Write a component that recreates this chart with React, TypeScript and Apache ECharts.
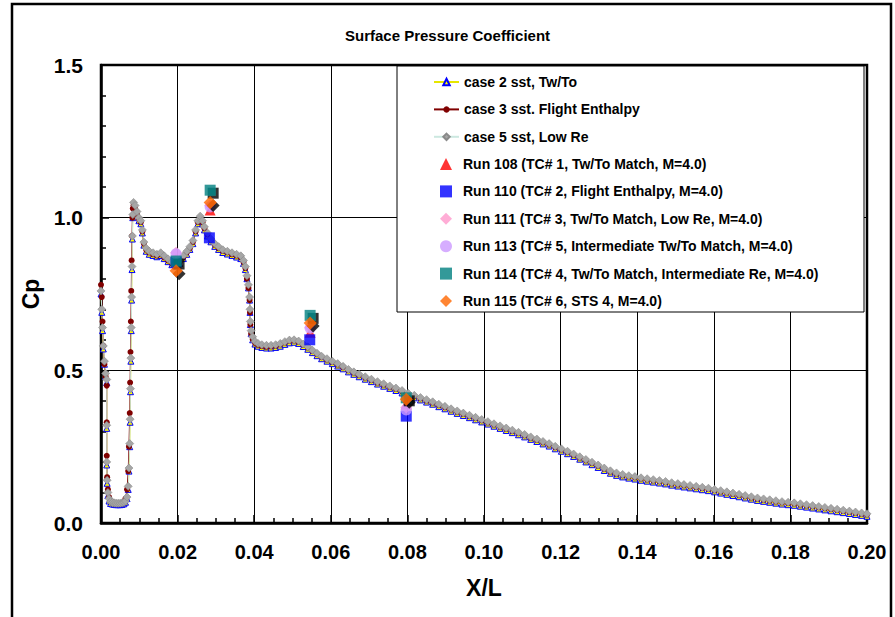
import React, { useEffect, useRef } from "react";
import * as echarts from "echarts";

const FONT = '"Liberation Sans", Arial, Helvetica, sans-serif';

// ---- CFD curves: shared X/L stations, split in three regions ----
const noseX = [0.0, 0.0002, 0.0004, 0.0006, 0.0009, 0.0012, 0.0015, 0.0015, 0.0015, 0.0016, 0.0018, 0.0021, 0.0025, 0.003, 0.0035, 0.004, 0.0045, 0.005, 0.0055, 0.006, 0.0064, 0.0068, 0.0071, 0.0073, 0.0075, 0.0076, 0.0077, 0.0078, 0.0079, 0.008, 0.0081, 0.0082, 0.0083, 0.0085];
const noseCase2 = [0.75, 0.69, 0.63, 0.57, 0.52, 0.48, 0.46, 0.31, 0.19, 0.13, 0.09, 0.072, 0.064, 0.062, 0.061, 0.06, 0.06, 0.06, 0.061, 0.063, 0.068, 0.08, 0.11, 0.17, 0.25, 0.33, 0.43, 0.53, 0.63, 0.73, 0.83, 0.93, 1.0, 1.04];
const noseCase3 = [0.78, 0.74, 0.66, 0.58, 0.52, 0.48, 0.45, 0.33, 0.22, 0.15, 0.11, 0.085, 0.072, 0.068, 0.066, 0.065, 0.064, 0.064, 0.065, 0.07, 0.08, 0.11, 0.17, 0.25, 0.36, 0.46, 0.56, 0.66, 0.76, 0.86, 0.94, 1.0, 1.03, 1.04];
const noseCase5 = [0.76, 0.7, 0.64, 0.58, 0.53, 0.49, 0.47, 0.32, 0.2, 0.14, 0.1, 0.08, 0.07, 0.067, 0.066, 0.065, 0.065, 0.065, 0.066, 0.068, 0.072, 0.085, 0.12, 0.18, 0.26, 0.34, 0.44, 0.54, 0.64, 0.74, 0.84, 0.94, 1.01, 1.05];

const midX = [0.0089, 0.0094, 0.0099, 0.0104, 0.0108, 0.0112, 0.0118, 0.0126, 0.0136, 0.0146, 0.0156, 0.0165, 0.0175, 0.0185, 0.0195, 0.0205, 0.0215, 0.0224, 0.0232, 0.024, 0.0247, 0.0253, 0.0259, 0.0265, 0.027, 0.0278, 0.0287, 0.0297, 0.0307, 0.0318, 0.033, 0.0342, 0.0354, 0.0365, 0.0372, 0.0377, 0.0381, 0.0385, 0.0388, 0.0389, 0.039, 0.0392, 0.0396, 0.0402, 0.041, 0.042, 0.0432, 0.0444, 0.0456, 0.0468, 0.048, 0.0492, 0.0504, 0.0516, 0.0528, 0.054, 0.0552, 0.0564, 0.0576, 0.059, 0.0604, 0.0618, 0.0632, 0.0646, 0.066, 0.0674];
const midCase2 = [1.03, 1.01, 0.99, 0.98, 0.95, 0.91, 0.89, 0.88, 0.876, 0.872, 0.876, 0.866, 0.856, 0.846, 0.842, 0.85, 0.866, 0.88, 0.896, 0.915, 0.95, 0.98, 0.995, 0.98, 0.96, 0.94, 0.921, 0.906, 0.896, 0.886, 0.881, 0.876, 0.871, 0.866, 0.85, 0.83, 0.8, 0.77, 0.73, 0.69, 0.65, 0.62, 0.6, 0.586, 0.579, 0.575, 0.573, 0.573, 0.575, 0.579, 0.585, 0.59, 0.592, 0.588, 0.578, 0.569, 0.558, 0.548, 0.538, 0.53, 0.522, 0.514, 0.505, 0.495, 0.487, 0.479];
const midCase3 = [1.03, 1.01, 0.995, 0.985, 0.955, 0.915, 0.895, 0.886, 0.88, 0.876, 0.88, 0.87, 0.86, 0.85, 0.846, 0.855, 0.87, 0.886, 0.9, 0.92, 0.955, 0.985, 1.0, 0.985, 0.965, 0.945, 0.926, 0.911, 0.9, 0.891, 0.886, 0.88, 0.876, 0.87, 0.855, 0.835, 0.8, 0.77, 0.73, 0.69, 0.65, 0.62, 0.602, 0.59, 0.583, 0.579, 0.577, 0.578, 0.58, 0.585, 0.591, 0.596, 0.597, 0.593, 0.583, 0.574, 0.563, 0.553, 0.543, 0.535, 0.527, 0.519, 0.51, 0.5, 0.492, 0.484];
const midCase5 = [1.04, 1.02, 1.0, 0.99, 0.96, 0.92, 0.9, 0.89, 0.885, 0.88, 0.885, 0.875, 0.865, 0.855, 0.85, 0.86, 0.875, 0.89, 0.905, 0.925, 0.96, 0.99, 1.005, 0.99, 0.97, 0.95, 0.93, 0.915, 0.905, 0.895, 0.89, 0.885, 0.88, 0.875, 0.86, 0.84, 0.81, 0.78, 0.74, 0.7, 0.66, 0.63, 0.61, 0.595, 0.588, 0.584, 0.582, 0.582, 0.584, 0.588, 0.594, 0.599, 0.6, 0.596, 0.586, 0.577, 0.566, 0.556, 0.546, 0.538, 0.53, 0.522, 0.513, 0.503, 0.495, 0.487];

const tailX = [0.069, 0.0706, 0.0722, 0.0738, 0.0754, 0.077, 0.0786, 0.0802, 0.0818, 0.0834, 0.085, 0.0866, 0.0882, 0.0898, 0.0914, 0.093, 0.0946, 0.0962, 0.0978, 0.0994, 0.101, 0.1026, 0.1042, 0.1058, 0.1074, 0.109, 0.1106, 0.1122, 0.1138, 0.1154, 0.117, 0.1186, 0.1202, 0.1218, 0.1234, 0.125, 0.1266, 0.1282, 0.1298, 0.1314, 0.133, 0.1346, 0.1362, 0.1378, 0.1394, 0.141, 0.1426, 0.1442, 0.1458, 0.1474, 0.149, 0.1506, 0.1522, 0.1538, 0.1554, 0.157, 0.1586, 0.1602, 0.1618, 0.1634, 0.165, 0.1666, 0.1682, 0.1698, 0.1714, 0.173, 0.1746, 0.1762, 0.1778, 0.1794, 0.181, 0.1826, 0.1842, 0.1858, 0.1874, 0.189, 0.1906, 0.1922, 0.1938, 0.1954, 0.197, 0.1986, 0.2];
const tailCase2 = [0.471, 0.463, 0.455, 0.448, 0.441, 0.434, 0.426, 0.417, 0.41, 0.403, 0.396, 0.389, 0.381, 0.374, 0.366, 0.359, 0.352, 0.345, 0.338, 0.331, 0.324, 0.317, 0.31, 0.303, 0.296, 0.289, 0.282, 0.274, 0.267, 0.259, 0.252, 0.243, 0.235, 0.227, 0.218, 0.209, 0.2, 0.191, 0.182, 0.172, 0.163, 0.156, 0.151, 0.147, 0.144, 0.14, 0.137, 0.134, 0.131, 0.128, 0.124, 0.121, 0.118, 0.115, 0.112, 0.109, 0.106, 0.102, 0.098, 0.094, 0.09, 0.086, 0.082, 0.078, 0.074, 0.071, 0.068, 0.065, 0.062, 0.06, 0.058, 0.055, 0.052, 0.049, 0.046, 0.043, 0.04, 0.037, 0.034, 0.031, 0.028, 0.025, 0.022];
const tailCase3 = [0.476, 0.468, 0.46, 0.453, 0.446, 0.439, 0.431, 0.422, 0.415, 0.408, 0.401, 0.394, 0.386, 0.379, 0.371, 0.364, 0.357, 0.35, 0.343, 0.336, 0.329, 0.322, 0.315, 0.308, 0.301, 0.294, 0.287, 0.279, 0.272, 0.264, 0.257, 0.248, 0.24, 0.232, 0.223, 0.214, 0.205, 0.196, 0.187, 0.177, 0.168, 0.161, 0.156, 0.152, 0.149, 0.145, 0.142, 0.139, 0.136, 0.133, 0.129, 0.126, 0.123, 0.12, 0.117, 0.114, 0.111, 0.107, 0.103, 0.099, 0.095, 0.091, 0.087, 0.083, 0.079, 0.076, 0.073, 0.07, 0.067, 0.065, 0.063, 0.06, 0.057, 0.054, 0.051, 0.048, 0.045, 0.042, 0.039, 0.036, 0.033, 0.03, 0.027];
const tailCase5 = [0.479, 0.471, 0.463, 0.456, 0.449, 0.442, 0.434, 0.425, 0.418, 0.411, 0.404, 0.397, 0.389, 0.382, 0.374, 0.367, 0.36, 0.353, 0.346, 0.339, 0.332, 0.325, 0.318, 0.311, 0.304, 0.297, 0.29, 0.282, 0.275, 0.267, 0.26, 0.251, 0.243, 0.235, 0.226, 0.217, 0.208, 0.199, 0.19, 0.18, 0.171, 0.164, 0.159, 0.155, 0.152, 0.148, 0.145, 0.142, 0.139, 0.136, 0.132, 0.129, 0.126, 0.123, 0.12, 0.117, 0.114, 0.11, 0.106, 0.102, 0.098, 0.094, 0.09, 0.086, 0.082, 0.079, 0.076, 0.073, 0.07, 0.068, 0.066, 0.063, 0.06, 0.057, 0.054, 0.051, 0.048, 0.045, 0.042, 0.039, 0.036, 0.033, 0.03];

// ---- Wind tunnel runs ----
const run108X = [0.0196, 0.0285, 0.0546, 0.0797];
const run108Y = [0.865, 1.025, 0.625, 0.39];
const run110X = [0.0196, 0.0283, 0.0545, 0.0797];
const run110Y = [0.855, 0.934, 0.6, 0.35];
const run111X = [0.0196, 0.0285, 0.0546, 0.0797];
const run111Y = [0.885, 1.04, 0.64, 0.378];
const run113X = [0.0196, 0.0285, 0.0546, 0.0797];
const run113Y = [0.882, 1.035, 0.638, 0.37];
const run114X = [0.0196, 0.0285, 0.0546, 0.0797];
const run114Y = [0.858, 1.09, 0.68, 0.41];
const run115X = [0.0196, 0.0285, 0.0546, 0.0797];
const run115Y = [0.826, 1.05, 0.655, 0.405];

const cfdNames = ["case 2 sst, Tw/To", "case 3 sst. Flight Enthalpy", "case 5 sst, Low Re"];
const runNames = [
  "Run 108 (TC# 1, Tw/To Match, M=4.0)",
  "Run 110 (TC# 2, Flight Enthalpy, M=4.0)",
  "Run 111 (TC# 3, Tw/To Match, Low Re, M=4.0)",
  "Run 113 (TC# 5, Intermediate Tw/To Match, M=4.0)",
  "Run 114 (TC# 4, Tw/To Match, Intermediate Re, M=4.0)",
  "Run 115 (TC# 6, STS 4, M=4.0)",
];

function pairs(xs: number[], ys: number[]) {
  const n = Math.min(xs.length, ys.length);
  const out: number[][] = [];
  for (let i = 0; i < n; i++) out.push([xs[i], ys[i]]);
  return out;
}

export default function App() {
  const ref = useRef<HTMLDivElement>(null);

  useEffect(() => {
    if (!ref.current) return;
    const chart = echarts.init(ref.current, undefined, { renderer: "svg" });

    const cfdX = [...noseX, ...midX, ...tailX];
    const c2 = pairs(cfdX, [...noseCase2, ...midCase2, ...tailCase2]);
    const c3 = pairs(cfdX, [...noseCase3, ...midCase3, ...tailCase3]);
    const c5 = pairs(cfdX, [...noseCase5, ...midCase5, ...tailCase5]);

    const shadow = { shadowColor: "#000", shadowOffsetX: 3, shadowOffsetY: 3, shadowBlur: 0 };
    const legendText = { fontFamily: FONT, fontSize: 14, fontWeight: "bold", color: "#000" };

    const option: any = {
      animation: false,
      backgroundColor: "#fff",
      title: {
        text: "Surface Pressure Coefficient",
        left: "center",
        top: 28,
        padding: 0,
        textStyle: { fontFamily: FONT, fontSize: 15, fontWeight: "bold", color: "#000" },
      },
      grid: {
        left: 101,
        right: 28,
        top: 65,
        bottom: 94,
        show: true,
        borderColor: "#000",
        borderWidth: 2.5,
        backgroundColor: "transparent",
      },
      xAxis: {
        type: "value",
        min: 0,
        max: 0.2,
        interval: 0.02,
        name: "X/L",
        nameLocation: "middle",
        nameGap: 53,
        nameTextStyle: { fontFamily: FONT, fontSize: 23, fontWeight: "bold", color: "#000" },
        axisLine: { show: true, onZero: false, lineStyle: { color: "#000", width: 2.5 } },
        axisTick: { show: true, inside: true, length: 8, lineStyle: { color: "#000", width: 1.5 } },
        minorTick: { show: true, splitNumber: 4, length: 5, lineStyle: { color: "#000", width: 1.5 } },
        splitLine: { show: true, lineStyle: { color: "#000", width: 1 } },
        axisLabel: {
          margin: 19,
          fontFamily: FONT,
          fontSize: 20,
          fontWeight: "bold",
          color: "#000",
          formatter: (v: number) => v.toFixed(2),
        },
      },
      yAxis: {
        type: "value",
        min: 0,
        max: 1.5,
        interval: 0.5,
        name: "Cp",
        nameLocation: "middle",
        nameGap: 43,
        nameRotate: 90,
        nameTextStyle: { fontFamily: FONT, fontSize: 23, fontWeight: "bold", color: "#000" },
        axisLine: { show: true, onZero: false, lineStyle: { color: "#000", width: 2.5 } },
        axisTick: { show: true, inside: true, length: 8, lineStyle: { color: "#000", width: 1.5 } },
        minorTick: { show: true, splitNumber: 5, length: 5, lineStyle: { color: "#000", width: 1.5 } },
        splitLine: { show: true, lineStyle: { color: "#000", width: 1 } },
        axisLabel: {
          margin: 18,
          fontFamily: FONT,
          fontSize: 21,
          fontWeight: "bold",
          color: "#000",
          formatter: (v: number) => v.toFixed(1),
        },
      },
      legend: [
        {
          orient: "vertical",
          left: 433,
          top: 75,
          padding: 0,
          itemWidth: 25,
          itemHeight: 8,
          itemGap: 13.4,
          selectedMode: false,
          data: cfdNames,
          textStyle: legendText,
        },
        {
          orient: "vertical",
          left: 440,
          top: 157,
          padding: 0,
          itemWidth: 12,
          itemHeight: 12,
          itemGap: 13.4,
          selectedMode: false,
          data: runNames,
          textStyle: { ...legendText, padding: [0, 0, 0, 6] },
        },
      ],
      graphic: [
        {
          type: "rect",
          z: 3,
          shape: { x: 397, y: 66, width: 467, height: 246 },
          style: { fill: "#fff", stroke: "#000", lineWidth: 1 },
          silent: true,
        },
        {
          type: "rect",
          z: 10,
          shape: { x: 12, y: 4, width: 879, height: 640 },
          style: { fill: "none", stroke: "#000", lineWidth: 2.5 },
          silent: true,
        },
      ],
      series: [
        {
          name: cfdNames[0],
          type: "line",
          data: c2,
          symbol: "triangle",
          symbolSize: 6,
          showAllSymbol: true,
          lineStyle: { color: "#e6e600", width: 1 },
          itemStyle: { color: "#ffff00", borderColor: "#0000ff", borderWidth: 1 },
          emphasis: { disabled: true },
          z: 2,
        },
        {
          name: cfdNames[1],
          type: "line",
          data: c3,
          symbol: "circle",
          symbolSize: 6,
          showAllSymbol: true,
          lineStyle: { color: "#800000", width: 1 },
          itemStyle: { color: "#800000" },
          emphasis: { disabled: true },
          z: 2,
        },
        {
          name: cfdNames[2],
          type: "line",
          data: c5,
          symbol: "diamond",
          symbolSize: 8,
          showAllSymbol: true,
          lineStyle: { color: "#cce8e0", width: 1 },
          itemStyle: { color: "#a6a6a6", borderColor: "#8a8a8a", borderWidth: 0.6 },
          emphasis: { disabled: true },
          z: 2,
        },
        {
          name: runNames[0],
          type: "scatter",
          data: pairs(run108X, run108Y),
          symbol: "triangle",
          symbolSize: 11,
          itemStyle: { color: "#ff0000" },
          emphasis: { disabled: true },
          z: 5,
        },
        {
          name: runNames[1],
          type: "scatter",
          data: pairs(run110X, run110Y),
          symbol: "rect",
          symbolSize: 11,
          itemStyle: { color: "#0000ff" },
          emphasis: { disabled: true },
          z: 5,
        },
        {
          name: runNames[2],
          type: "scatter",
          data: pairs(run111X, run111Y),
          symbol: "diamond",
          symbolSize: 12,
          itemStyle: { color: "#ff99cc" },
          emphasis: { disabled: true },
          z: 5,
        },
        {
          name: runNames[3],
          type: "scatter",
          data: pairs(run113X, run113Y),
          symbol: "circle",
          symbolSize: 11,
          itemStyle: { color: "#cc99ff" },
          emphasis: { disabled: true },
          z: 5,
        },
        {
          name: runNames[4],
          type: "scatter",
          data: pairs(run114X, run114Y),
          symbol: "rect",
          symbolSize: 11,
          itemStyle: { color: "#008080", ...shadow },
          emphasis: { disabled: true },
          z: 5,
        },
        {
          name: runNames[5],
          type: "scatter",
          data: pairs(run115X, run115Y),
          symbol: "diamond",
          symbolSize: 13,
          itemStyle: { color: "#ff6600", ...shadow },
          emphasis: { disabled: true },
          z: 5,
        },
      ],
    };

    chart.setOption(option);
    return () => chart.dispose();
  }, []);

  return (
    <div
      ref={ref}
      style={{ position: "fixed", left: 0, top: 0, width: 895, height: 617, background: "#fff" }}
    />
  );
}
